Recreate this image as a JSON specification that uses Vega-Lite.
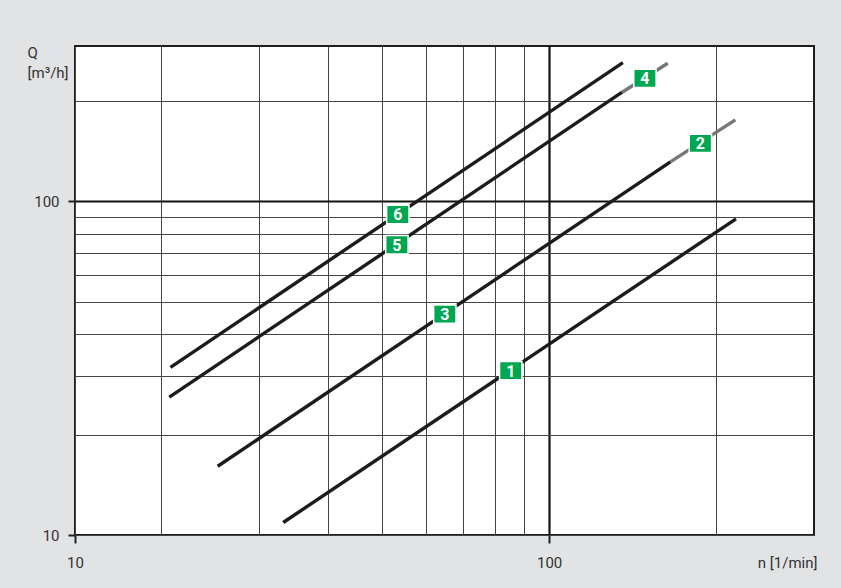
{
  "$schema": "https://vega.github.io/schema/vega-lite/v6.json",
  "width": 739,
  "height": 489,
  "autosize": {"type": "none"},
  "padding": {"left": 75, "top": 46, "right": 27, "bottom": 53},
  "background": "#e2e3e5",
  "view": {"fill": "white", "stroke": "#1e1e1e", "strokeWidth": 2},
  "datasets": {
    "lines": [
      {"seg": "6", "style": "black", "n": 20.8, "Q": 31.8},
      {"seg": "6", "style": "black", "n": 135.8, "Q": 260.3},
      {"seg": "5", "style": "black", "n": 20.7, "Q": 25.9},
      {"seg": "5", "style": "black", "n": 135.4, "Q": 212.3},
      {"seg": "4", "style": "gray", "n": 135.4, "Q": 212.3},
      {"seg": "4", "style": "gray", "n": 163.6, "Q": 259.3},
      {"seg": "3", "style": "black", "n": 25.3, "Q": 16.07},
      {"seg": "3", "style": "black", "n": 165.4, "Q": 131.3},
      {"seg": "2", "style": "gray", "n": 165.4, "Q": 131.3},
      {"seg": "2", "style": "gray", "n": 216.5, "Q": 175.4},
      {"seg": "1", "style": "black", "n": 33.2, "Q": 10.9},
      {"seg": "1", "style": "black", "n": 217.1, "Q": 88.6}
    ],
    "labels": [
      {"label": "4", "n": 148.8, "Q": 233.5},
      {"label": "2", "n": 187.3, "Q": 149.2},
      {"label": "6", "n": 53.4, "Q": 91.3},
      {"label": "5", "n": 53.2, "Q": 74.1},
      {"label": "3", "n": 64.9, "Q": 45.9},
      {"label": "1", "n": 85.3, "Q": 31.1}
    ]
  },
  "encoding": {
    "x": {
      "field": "n",
      "type": "quantitative",
      "scale": {"type": "log", "domain": [14, 300], "nice": false},
      "axis": {
        "values": [14, 20, 30, 40, 50, 60, 70, 80, 90, 100, 200],
        "labelExpr": "datum.value == 14 ? '10' : (datum.value == 100 ? '100' : '')",
        "grid": true,
        "gridColor": {"condition": {"test": "datum.value == 100", "value": "#111111"}, "value": "#444444"},
        "gridWidth": {"condition": {"test": "datum.value == 100", "value": 2.2}, "value": 1},
        "tickOpacity": {"condition": {"test": "datum.value == 14 || datum.value == 100", "value": 1}, "value": 0},
        "tickSize": 8,
        "tickWidth": 2,
        "tickColor": "#222222",
        "domain": false,
        "labelFont": "Roboto",
        "labelFontSize": 15,
        "labelColor": "#333333",
        "labelBaseline": "alphabetic",
        "labelPadding": 24,
        "labelFlush": false,
        "labelOverlap": false,
        "title": "n [1/min]",
        "titleFont": "Roboto",
        "titleFontSize": 15,
        "titleFontWeight": "normal",
        "titleColor": "#333333",
        "titleAlign": "right",
        "titleBaseline": "alphabetic",
        "titleX": 742,
        "titleY": 32
      }
    },
    "y": {
      "field": "Q",
      "type": "quantitative",
      "scale": {"type": "log", "domain": [10, 292], "nice": false},
      "axis": {
        "values": [10, 20, 30, 40, 50, 60, 70, 80, 90, 100, 200],
        "labelExpr": "datum.value == 10 || datum.value == 100 ? datum.label : ''",
        "grid": true,
        "gridColor": {"condition": {"test": "datum.value == 100", "value": "#111111"}, "value": "#444444"},
        "gridWidth": {"condition": {"test": "datum.value == 100", "value": 2.2}, "value": 1},
        "tickOpacity": {"condition": {"test": "datum.value == 10 || datum.value == 100", "value": 1}, "value": 0},
        "tickSize": 7,
        "tickWidth": 2,
        "tickColor": "#222222",
        "domain": false,
        "labelFont": "Roboto",
        "labelFontSize": 15,
        "labelColor": "#333333",
        "labelPadding": 9,
        "labelOverlap": false,
        "title": ["Q", "[m³/h]"],
        "titleFont": "Roboto",
        "titleFontSize": 15,
        "titleFontWeight": "normal",
        "titleColor": "#333333",
        "titleAngle": 0,
        "titleAlign": "left",
        "titleBaseline": "alphabetic",
        "titleLineHeight": 20,
        "titleX": -48,
        "titleY": 11
      }
    }
  },
  "layer": [
    {
      "data": {"name": "lines"},
      "mark": {"type": "line", "strokeWidth": 3.4, "strokeCap": "butt"},
      "encoding": {
        "detail": {"field": "seg"},
        "color": {
          "field": "style",
          "type": "nominal",
          "scale": {"domain": ["black", "gray"], "range": ["#1c1c1c", "#777777"]},
          "legend": null
        }
      }
    },
    {
      "data": {"name": "labels"},
      "mark": {
        "type": "point",
        "shape": "M-1,-0.82L1,-0.82L1,0.82L-1,0.82Z",
        "size": 500,
        "filled": true,
        "fill": "#00a651",
        "stroke": "white",
        "strokeWidth": 1.5,
        "opacity": 1
      }
    },
    {
      "data": {"name": "labels"},
      "mark": {
        "type": "text",
        "font": "Roboto",
        "fontSize": 16,
        "fontWeight": "bold",
        "color": "white",
        "align": "center",
        "baseline": "middle",
        "dy": 1
      },
      "encoding": {"text": {"field": "label"}}
    }
  ]
}
